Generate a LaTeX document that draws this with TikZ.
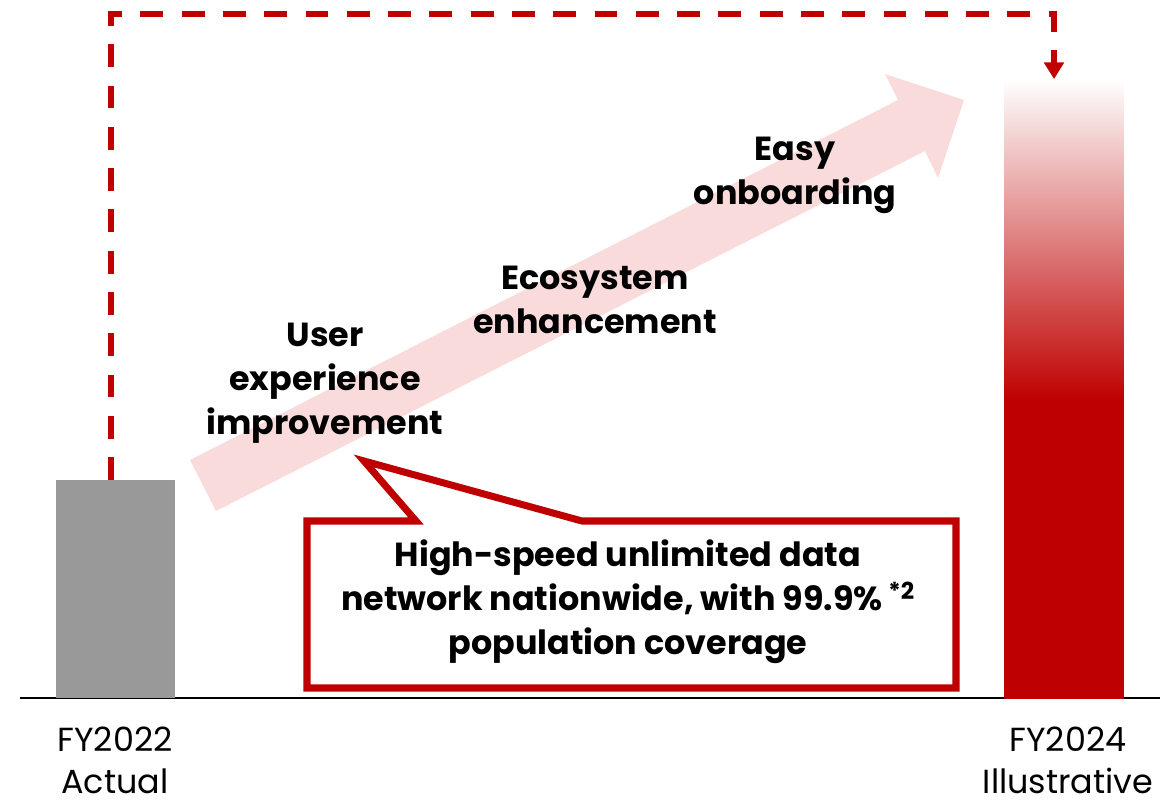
\documentclass[tikz,border=0pt]{standalone}
\usepackage{fontspec}
\setmainfont{Poppins}
\usetikzlibrary{arrows.meta}

\definecolor{rakred}{HTML}{BF0000}
\definecolor{bargray}{HTML}{999999}
\definecolor{arrowpink}{HTML}{F9DBDB}
\pgfdeclareverticalshading{barfade}{100bp}{color(0bp)=(rakred); color(49bp)=(rakred); color(75bp)=(white); color(100bp)=(white)}

\tikzset{
  bar/.style={inner sep=0pt, outer sep=0pt, anchor=south, minimum width=2.38cm},
  lbl/.style={font=\fontsize{19}{25}\selectfont\bfseries, align=center},
  yearlbl/.style={font=\fontsize{19}{24}\selectfont, align=center, inner sep=0pt},
  flow/.style={rakred, line width=3pt, dash pattern=on 13pt off 10.5pt, line join=miter, -{Triangle[width=11pt,length=9.5pt]}},
}

\begin{document}
\begin{tikzpicture}[x=0.02cm, y=-0.02cm]
	\useasboundingbox (0,0) rectangle (1173,804);
	\fill[arrowpink] (190,460) -- (898,100) -- (885,74) -- (964,100) -- (938,178) -- (925,151) -- (216,511) -- cycle;
	\draw[line width=1.1pt] (20,698) -- (1160,698);
	\node[bar, fill=bargray, minimum height=4.36cm] (b22) at (115.5,698) {};
	\node[bar, shading=barfade, minimum height=12.38cm] (b24) at (1064,698) {};
	\coordinate (top) at (0,14);
	\draw[flow] ([xshift=-0.09cm]b22.north) -- ([xshift=-0.09cm]b22.north |- top) -| ([xshift=-0.2cm]b24.north);
	\draw[rakred, fill=white, line width=4pt, line join=miter] (307,521) -- (416,521) -- (364,461) -- (582,521) -- (956,521) -- (956,688) -- (307,688) -- cycle;
	\node[lbl] (ux) at (325,383) {User\\experience\\improvement};
	\node[lbl] (eco) at (595,300) {Ecosystem\\enhancement};
	\node[lbl] (easy) at (795,175) {Easy\\onboarding};
	\node[lbl] (cov) at (628,602) {High-speed unlimited data\\network nationwide, with 99.9\%\,\textsuperscript{*2}\\population coverage};
	\node[yearlbl] (y22) at (115,760) {FY2022\\Actual};
	\node[yearlbl] (y24) at (1068,760) {FY2024\\Illustrative};
\end{tikzpicture}
\end{document}
